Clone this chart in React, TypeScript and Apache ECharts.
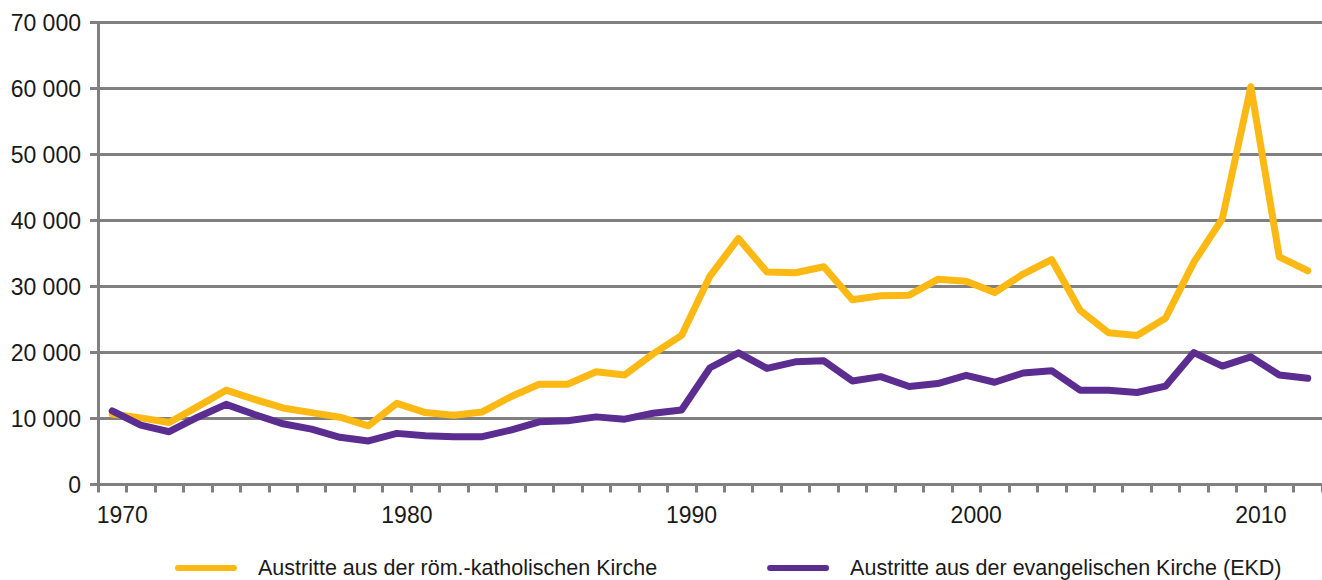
import React, { useEffect, useRef } from "react";
import * as echarts from "echarts";

const years: string[] = [];
for (let y = 1970; y <= 2012; y++) years.push(String(y));

const catholic = [
  10700, 10100, 9400, 11800, 14300, 12900, 11600, 10900, 10200, 8900,
  12300, 10900, 10500, 11000, 13300, 15200, 15200, 17100, 16600, 19800,
  22600, 31600, 37300, 32200, 32100, 33000, 28000, 28600, 28700, 31100,
  30800, 29100, 31900, 34100, 26400, 23000, 22600, 25200, 33700, 40300,
  60300, 34500, 32400,
];

const protestant = [
  11150, 9000, 8000, 10200, 12150, 10600, 9200, 8400, 7150, 6600,
  7750, 7400, 7250, 7250, 8250, 9500, 9650, 10250, 9900, 10800,
  11300, 17700, 19950, 17600, 18600, 18750, 15700, 16350, 14850, 15300,
  16550, 15500, 16900, 17250, 14300, 14300, 13950, 14900, 20000, 17950,
  19350, 16600, 16100,
];

const seriesNames = [
  "Austritte aus der röm.-katholischen Kirche",
  "Austritte aus der evangelischen Kirche (EKD)",
];

const YELLOW = "#FDB913";
const PURPLE = "#5C2D91";
const GRAY = "#808080";
const FONT = "'Liberation Sans', Arial, sans-serif";
const ICON = "path://M3,0 L59,0 A3,3 0 0 1 59,6 L3,6 A3,3 0 0 1 3,0 Z";

export default function App() {
  const ref = useRef<HTMLDivElement>(null);
  useEffect(() => {
    if (!ref.current) return;
    const chart = echarts.init(ref.current, undefined, { renderer: "svg" });
    chart.setOption({
      animation: false,
      backgroundColor: "#ffffff",
      grid: { left: 98, right: -8, top: 22.7, bottom: 95.5, containLabel: false },
      legend: {
        bottom: 1,
        left: 175,
        padding: 0,
        itemGap: 110,
        itemWidth: 62,
        itemHeight: 6,
        textStyle: {
          fontFamily: FONT,
          fontSize: 21.5,
          lineHeight: 16,
          color: "#1a1a1a",
          padding: [0, 0, 0, 16],
        },
        data: [
          { name: seriesNames[0], icon: ICON },
          { name: seriesNames[1], icon: ICON },
        ],
      },
      xAxis: {
        type: "category",
        data: years,
        boundaryGap: true,
        axisLine: { lineStyle: { color: GRAY, width: 3 } },
        axisTick: { show: true, interval: 0, length: 8, lineStyle: { color: GRAY, width: 3 } },
        axisLabel: {
          interval: (i: number) => i % 10 === 0,
          margin: 18.5,
          fontFamily: FONT,
          fontSize: 23,
          color: "#1a1a1a",
          padding: [0, 0, 0, 20],
        },
        splitLine: { show: false },
      },
      yAxis: {
        type: "value",
        min: 0,
        max: 70000,
        interval: 10000,
        axisLine: { show: true, lineStyle: { color: GRAY, width: 3 } },
        axisTick: { show: true, length: 8, lineStyle: { color: GRAY, width: 3 } },
        axisLabel: {
          margin: 17,
          fontFamily: FONT,
          fontSize: 23,
          color: "#1a1a1a",
          formatter: (v: number) => (v === 0 ? "0" : String(v / 1000) + " 000"),
        },
        splitLine: { show: true, lineStyle: { color: GRAY, width: 3 } },
      },
      series: [
        {
          name: seriesNames[0],
          type: "line",
          data: catholic,
          symbol: "none",
          color: YELLOW,
          lineStyle: { color: YELLOW, width: 7, join: "round", cap: "round" },
          z: 3,
        },
        {
          name: seriesNames[1],
          type: "line",
          data: protestant,
          symbol: "none",
          color: PURPLE,
          lineStyle: { color: PURPLE, width: 7, join: "round", cap: "round" },
          z: 4,
        },
      ],
    });
    return () => chart.dispose();
  }, []);
  return (
    <div
      ref={ref}
      style={{ position: "fixed", left: 0, top: 0, width: 1322, height: 580, background: "#fff" }}
    />
  );
}
